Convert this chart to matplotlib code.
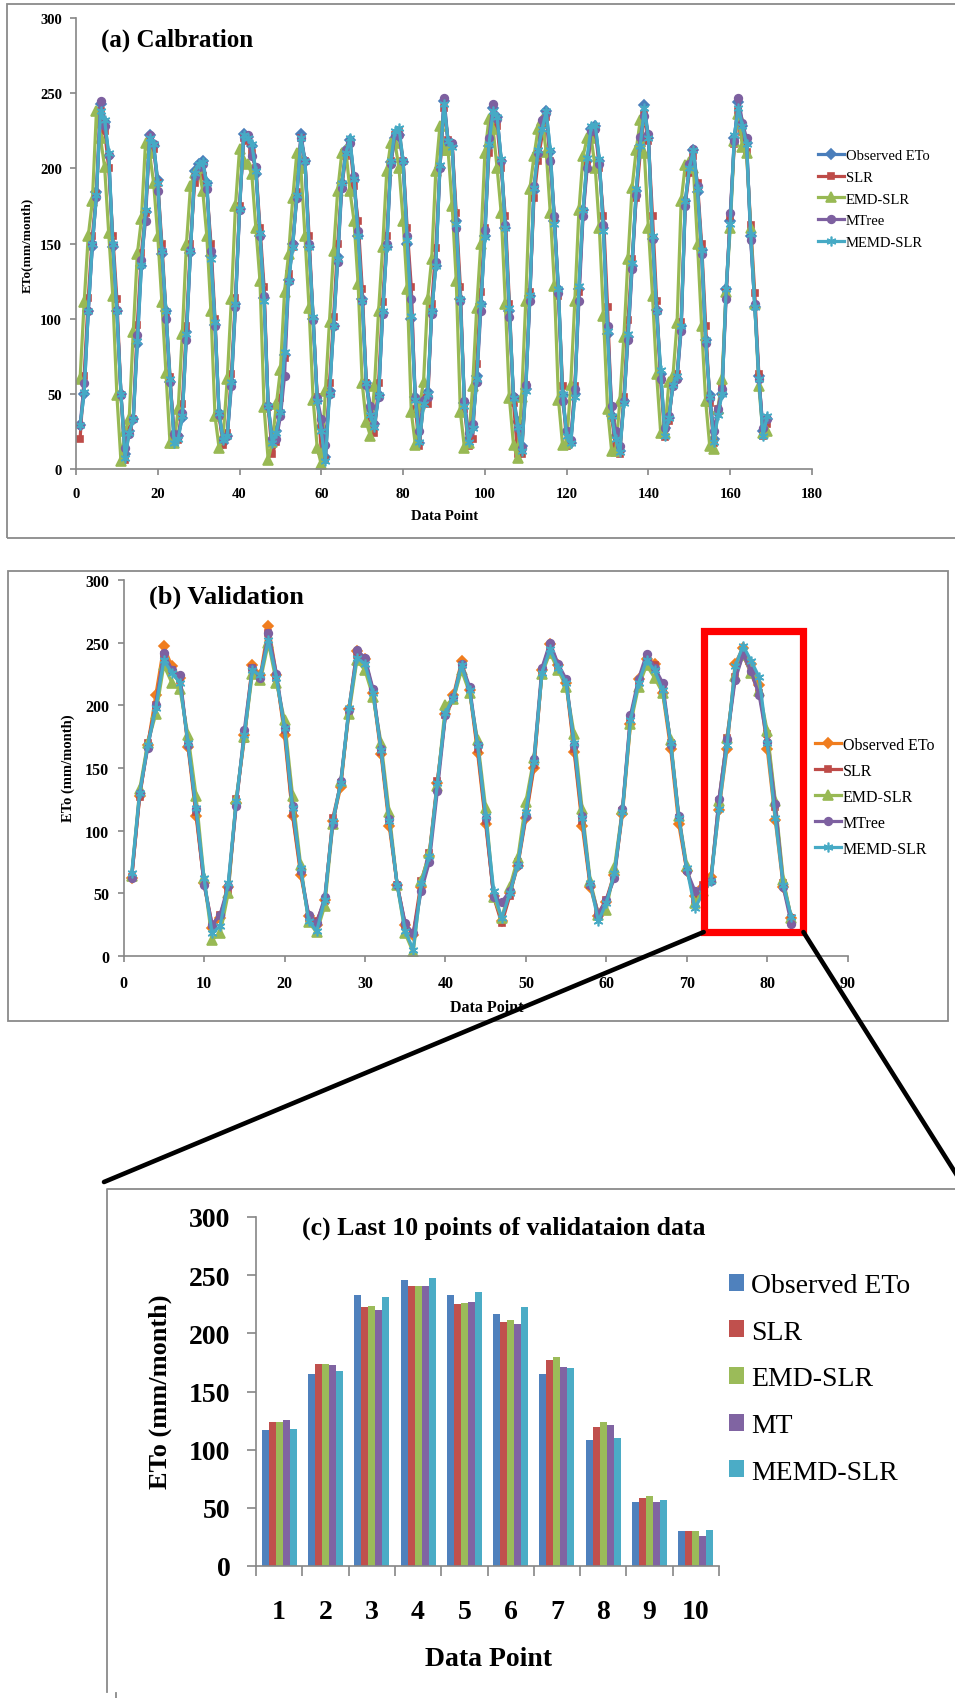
import matplotlib
matplotlib.use('Agg')
import numpy as np
import matplotlib.pyplot as plt
from matplotlib.patches import Rectangle, ConnectionPatch
from matplotlib.lines import Line2D

plt.rcParams['font.family'] = ['Liberation Serif', 'DejaVu Serif']

# ---- (a) calibration, monthly ETo (mm/month) ----
obs_a = [29, 50, 105, 148, 184, 243, 231, 208, 148, 105, 50, 10,
         25, 33, 83, 135, 171, 222, 215, 192, 143, 105, 58, 23,
         22, 34, 91, 144, 198, 203, 205, 190, 142, 96, 37, 17,
         22, 58, 110, 173, 223, 221, 215, 196, 155, 114, 42, 19,
         25, 38, 76, 126, 150, 182, 223, 205, 148, 100, 45, 28,
         8, 52, 95, 141, 190, 212, 219, 192, 155, 113, 57, 40,
         30, 49, 104, 148, 204, 220, 222, 204, 150, 100, 48, 17,
         45, 51, 105, 135, 200, 245, 216, 215, 165, 113, 44, 20,
         28, 62, 110, 155, 215, 240, 234, 205, 160, 105, 48, 31,
         15, 53, 115, 185, 210, 228, 238, 211, 165, 120, 49, 25,
         17, 50, 120, 172, 205, 226, 228, 205, 160, 90, 35, 22,
         12, 45, 88, 135, 185, 215, 242, 220, 153, 106, 63, 27,
         34, 57, 60, 95, 178, 200, 212, 184, 146, 86, 49, 20,
         37, 50, 120, 165, 220, 244, 228, 217, 155, 108, 62, 25,
         33]
slr_a = [20, 62, 114, 155, 183, 238, 225, 200, 155, 113, 49, 6,
         26, 33, 96, 144, 170, 220, 213, 190, 150, 104, 61, 19,
         19, 43, 95, 150, 190, 198, 195, 186, 150, 100, 35, 16,
         24, 63, 114, 175, 220, 218, 210, 200, 160, 121, 41, 10,
         18, 47, 74, 130, 148, 184, 220, 205, 155, 100, 48, 12,
         6, 57, 101, 150, 188, 208, 217, 188, 165, 120, 57, 34,
         24, 57, 111, 155, 205, 222, 225, 205, 160, 121, 40, 15,
         47, 43, 110, 147, 200, 240, 219, 216, 170, 121, 40, 15,
         20, 70, 118, 160, 210, 233, 228, 200, 168, 110, 44, 10,
         10, 56, 118, 180, 205, 222, 234, 205, 166, 115, 55, 15,
         18, 55, 118, 170, 203, 220, 226, 200, 168, 108, 34, 15,
         10, 48, 99, 140, 180, 210, 236, 218, 168, 112, 59, 21,
         32, 58, 63, 98, 176, 197, 208, 190, 150, 95, 44, 17,
         40, 55, 118, 168, 216, 238, 224, 211, 162, 117, 63, 22,
         30]
emd_a = [60, 111, 155, 178, 238, 220, 201, 157, 115, 49, 5, 25,
         33, 91, 143, 166, 217, 210, 190, 155, 111, 64, 17, 17,
         40, 90, 149, 188, 197, 200, 185, 155, 105, 35, 14, 22,
         60, 113, 175, 213, 205, 203, 196, 160, 125, 41, 6, 18,
         43, 66, 118, 143, 180, 210, 200, 155, 107, 46, 14, 3,
         52, 98, 145, 185, 210, 212, 185, 165, 123, 57, 31, 22,
         55, 105, 148, 198, 217, 217, 200, 165, 120, 38, 16, 42,
         58, 113, 140, 198, 228, 212, 212, 175, 125, 38, 14, 17,
         55, 107, 150, 210, 233, 226, 200, 170, 110, 47, 16, 7,
         48, 112, 186, 208, 226, 232, 211, 170, 122, 46, 16, 17,
         56, 112, 172, 208, 220, 220, 200, 160, 102, 40, 12, 12,
         45, 88, 140, 187, 212, 232, 210, 160, 115, 63, 24, 24,
         58, 62, 97, 178, 202, 204, 200, 150, 95, 45, 15, 13,
         40, 60, 118, 160, 218, 236, 214, 210, 160, 110, 55, 24,
         25]
mtree_a = [29, 57, 105, 150, 181, 245, 228, 209, 149, 106, 49, 14,
           23, 33, 89, 139, 165, 222, 216, 185, 145, 100, 58, 23,
           22, 37, 86, 146, 195, 201, 203, 186, 145, 95, 36, 20,
           22, 55, 108, 172, 221, 222, 208, 201, 155, 115, 42, 20,
           20, 35, 62, 125, 150, 180, 220, 205, 150, 99, 47, 33,
           16, 50, 95, 138, 187, 212, 217, 195, 158, 112, 56, 42,
           30, 48, 103, 150, 203, 222, 222, 205, 155, 113, 47, 25,
           46, 48, 103, 138, 200, 247, 218, 217, 160, 112, 45, 24,
           30, 58, 105, 159, 220, 243, 233, 205, 162, 101, 48, 27,
           14, 56, 112, 188, 210, 232, 237, 205, 168, 117, 45, 25,
           19, 53, 112, 168, 200, 225, 226, 203, 162, 95, 42, 25,
           15, 45, 86, 133, 182, 221, 235, 223, 153, 105, 60, 27,
           35, 55, 60, 92, 175, 203, 213, 188, 143, 84, 47, 25,
           40, 53, 113, 170, 218, 247, 230, 220, 152, 110, 60, 27,
           33]
memd_a = [29, 51, 105, 150, 182, 238, 232, 210, 150, 105, 50, 7,
          24, 33, 85, 136, 172, 220, 216, 190, 145, 105, 60, 17,
          20, 35, 90, 145, 197, 203, 204, 190, 140, 98, 37, 19,
          22, 58, 110, 173, 222, 220, 216, 198, 157, 112, 42, 17,
          24, 38, 78, 125, 148, 182, 220, 205, 148, 101, 45, 25,
          5, 50, 95, 140, 190, 210, 220, 193, 155, 112, 57, 36,
          28, 49, 105, 148, 205, 225, 227, 205, 152, 102, 46, 18,
          43, 50, 105, 135, 202, 243, 218, 214, 163, 113, 42, 18,
          27, 60, 110, 154, 216, 238, 234, 206, 160, 107, 47, 28,
          12, 52, 116, 187, 212, 226, 238, 212, 163, 120, 50, 22,
          17, 48, 122, 172, 207, 228, 229, 206, 158, 92, 35, 20,
          11, 44, 90, 137, 186, 215, 240, 220, 155, 105, 66, 22,
          34, 56, 62, 95, 178, 200, 212, 186, 146, 86, 48, 18,
          36, 50, 120, 163, 222, 240, 228, 216, 156, 108, 60, 22,
          35]

# ---- (b) validation ----
obs_b = [62, 128, 168, 208, 247, 231, 222, 167, 112, 58,
         22, 30, 55, 122, 176, 232, 224, 263, 224, 176,
         112, 65, 32, 25, 45, 108, 135, 197, 243, 237,
         210, 161, 104, 57, 25, 17, 55, 80, 138, 193,
         208, 235, 212, 162, 105, 48, 28, 50, 72, 110,
         150, 228, 249, 232, 218, 163, 104, 55, 32, 43,
         65, 113, 185, 221, 237, 233, 210, 165, 105, 68,
         48, 55, 63, 116.6, 165.3, 233, 246, 233, 216.6, 165,
         108.3, 54.7, 30]
slr_b = [63, 127, 170, 200, 240, 228, 220, 170, 115, 58,
         25, 33, 52, 125, 173, 230, 222, 258, 222, 180,
         113, 68, 30, 28, 44, 110, 138, 195, 240, 235,
         212, 163, 108, 57, 24, 18, 60, 82, 140, 192,
         205, 232, 213, 165, 108, 47, 26, 48, 75, 112,
         152, 226, 245, 230, 220, 165, 108, 57, 34, 45,
         66, 116, 190, 218, 236, 232, 213, 170, 110, 69,
         45, 57, 60, 123.5, 174, 223, 240.4, 225.2, 209.5, 177,
         119.2, 58.5, 30]
emd_b = [64, 133, 170, 193, 232, 218, 213, 176, 128, 62,
         13, 18, 50, 125, 175, 225, 220, 250, 218, 188,
         128, 73, 27, 19, 40, 105, 140, 193, 236, 228,
         207, 170, 115, 57, 18, 3, 60, 82, 136, 200,
         205, 228, 210, 172, 118, 47, 30, 55, 78, 123,
         158, 225, 242, 228, 215, 177, 117, 60, 33, 37,
         70, 117, 185, 215, 232, 222, 210, 172, 112, 72,
         42, 52, 62, 124, 174, 223.8, 240.4, 226, 211.7, 179.4,
         123.8, 60.5, 30]
mtree_b = [62, 130, 166, 200, 242, 228, 224, 168, 117, 57,
           25, 33, 56, 120, 180, 230, 222, 258, 225, 182,
           120, 68, 33, 26, 47, 105, 140, 196, 244, 238,
           213, 165, 109, 57, 26, 18, 52, 75, 132, 192,
           207, 233, 215, 168, 110, 47, 43, 52, 73, 112,
           157, 230, 250, 233, 221, 168, 112, 57, 33, 45,
           62, 117, 192, 221, 241, 230, 218, 168, 112, 68,
           52, 55, 60, 125.5, 172.8, 220, 240.7, 227, 208, 171,
           121.2, 54.7, 25.5]
memd_b = [66, 130, 168, 198, 236, 226, 218, 170, 118, 62,
          18, 24, 58, 124, 176, 228, 224, 252, 222, 182,
          118, 70, 28, 20, 45, 108, 138, 198, 238, 233,
          210, 164, 108, 57, 20, 5, 58, 80, 138, 194,
          206, 232, 212, 168, 112, 52, 30, 50, 73, 115,
          155, 226, 245, 230, 218, 170, 110, 58, 28, 42,
          66, 115, 188, 218, 236, 228, 212, 170, 110, 70,
          38, 50, 60, 117.5, 168, 231, 247.6, 235.5, 222.4, 170,
          109.8, 56.5, 31]

names_ab = ['Observed ETo', 'SLR', 'EMD-SLR', 'MTree', 'MEMD-SLR']
names_c = ['Observed ETo', 'SLR', 'EMD-SLR', 'MT', 'MEMD-SLR']
n_last = 10

blue, red, green, purple, cyan = '#4A7EBB', '#BE4B48', '#98B954', '#7D60A0', '#46AAC5'
orange = '#F07D1E'
colors_a = [blue, red, green, purple, cyan]
colors_b = [orange, red, green, purple, cyan]
bar_colors = ['#4F81BD', '#C0504D', '#9BBB59', '#8064A2', '#4BACC6']
markers = ['D', 's', '^', 'o', (6, 2, 0)]
msizes = [5, 4, 6.5, 5.5, 7]

W, H = 955, 1699
fig = plt.figure(figsize=(W / 100, H / 100), dpi=100)


def fx(x):
    return x / W


def fy(y):
    return 1 - y / H


def box(l, t, r, b):
    return [fx(l), fy(b), (r - l) / W, (b - t) / H]


def style(ax, fs, xpad, ypad, tl=4):
    for s in ['top', 'right']:
        ax.spines[s].set_visible(False)
    for s in ['left', 'bottom']:
        ax.spines[s].set_color('#868686')
        ax.spines[s].set_linewidth(1.2)
    ax.tick_params(direction='out', color='#868686', length=tl, width=1.2,
                   labelsize=fs)
    ax.tick_params(axis='x', pad=xpad)
    ax.tick_params(axis='y', pad=ypad)
    plt.setp(ax.get_xticklabels() + ax.get_yticklabels(), fontweight='bold')


gray = '#8a8a8a'
# panel frames
fig.add_artist(Rectangle((fx(7), fy(539)), (962 - 7) / W, (539 - 5) / H,
                         transform=fig.transFigure, fill=False, ec=gray, lw=1.3))
fig.add_artist(Rectangle((fx(8), fy(1022)), (948 - 8) / W, (1022 - 572) / H,
                         transform=fig.transFigure, fill=False, ec=gray, lw=1.3))
fig.add_artist(Line2D([fx(107), fx(107), fx(962)], [fy(1693), fy(1190), fy(1190)],
                      transform=fig.transFigure, color=gray, lw=1.3))
fig.add_artist(Line2D([fx(116), fx(116)], [fy(1694), fy(1701)],
                      transform=fig.transFigure, color=gray, lw=1.3))

# ---- (a) ----
ax_a = fig.add_axes(box(76, 19, 812, 470))
xa = np.arange(1, len(obs_a) + 1)
for vals, name, c, m, ms in zip([obs_a, slr_a, emd_a, mtree_a, memd_a],
                                names_ab, colors_a, markers, msizes):
    ax_a.plot(xa, vals, color=c, lw=2.3, marker=m, ms=ms, mec=c, mfc=c,
              mew=1.2, label=name)
ax_a.set_xlim(0, 180)
ax_a.set_ylim(0, 300)
ax_a.set_xticks(range(0, 181, 20))
ax_a.set_yticks(range(0, 301, 50))
style(ax_a, 10.5, 9, 6)
ax_a.legend(loc='upper left', bbox_to_anchor=(fx(818), fy(150)),
            bbox_transform=fig.transFigure, frameon=False, fontsize=10.5,
            handlelength=1.8, handletextpad=0.1, labelspacing=0.58,
            borderpad=0, borderaxespad=0, numpoints=1)
fig.text(fx(101), fy(40), '(a) Calbration', fontsize=18, fontweight='bold',
         ha='left', va='center')
fig.text(fx(27), fy(245), 'ETo(mm/month)', fontsize=9.5, fontweight='bold',
         rotation=90, ha='center', va='center')
fig.text(fx(445), fy(517), 'Data Point', fontsize=10.5, fontweight='bold',
         ha='center', va='center')

# ---- (b) ----
ax_b = fig.add_axes(box(123.6, 581, 847.7, 957))
xb = np.arange(1, len(obs_b) + 1)
for vals, name, c, m, ms in zip([obs_b, slr_b, emd_b, mtree_b, memd_b],
                                names_ab, colors_b, markers, msizes):
    ax_b.plot(xb, vals, color=c, lw=2.3, marker=m, ms=ms, mec=c, mfc=c,
              mew=1.2, label=name)
ax_b.set_xlim(0, 90)
ax_b.set_ylim(0, 300)
ax_b.set_xticks(range(0, 91, 10))
ax_b.set_yticks(range(0, 301, 50))
style(ax_b, 11.5, 10, 6.5)
ax_b.legend(loc='upper left', bbox_to_anchor=(fx(815), fy(738)),
            bbox_transform=fig.transFigure, frameon=False, fontsize=11.5,
            handlelength=1.65, handletextpad=0.1, labelspacing=0.62,
            borderpad=0, borderaxespad=0, numpoints=1)
fig.text(fx(149), fy(597), '(b) Validation', fontsize=19, fontweight='bold',
         ha='left', va='center')
fig.text(fx(68), fy(768), 'ETo (mm/month)', fontsize=10.5, fontweight='bold',
         rotation=90, ha='center', va='center')
fig.text(fx(487), fy(1008), 'Data Point', fontsize=11.5, fontweight='bold',
         ha='center', va='center')

# zoom box and connector lines
x0, x1 = len(obs_b) - n_last - 0.9, len(obs_b) + 1.5
y0, y1 = 19.1, 259.7
ax_b.add_patch(Rectangle((x0, y0), x1 - x0, y1 - y0, fill=False, ec='#FF0000',
                         lw=5.2, clip_on=False, zorder=6, joinstyle='miter'))
for xa_, xyB in [(x0, (fx(104), fy(1183))), (x1, (fx(958), fy(1178)))]:
    fig.add_artist(ConnectionPatch(xyA=(xa_, y0), coordsA=ax_b.transData,
                                   xyB=xyB, coordsB=fig.transFigure,
                                   color='black', lw=3.3, zorder=7))

# ---- (c) ----
ax_c = fig.add_axes(box(256, 1218, 719, 1567))
xc = np.arange(1, n_last + 1)
bw = 0.151
for i, (vals, name, c) in enumerate(zip([obs_b, slr_b, emd_b, mtree_b, memd_b],
                                        names_c, bar_colors)):
    ax_c.bar(xc + (i - 2) * bw, vals[-n_last:], width=bw, color=c, label=name)
ax_c.set_xlim(0.5, n_last + 0.5)
ax_c.set_ylim(0, 300)
ax_c.set_xticks(xc)
ax_c.set_xticks(np.arange(0.5, n_last + 1), minor=True)
ax_c.set_yticks(range(0, 301, 50))
style(ax_c, 20, 24, 12, tl=6.5)
ax_c.tick_params(axis='x', which='major', length=0)
ax_c.tick_params(axis='x', which='minor', direction='out', length=7.5,
                 width=1.2, color='#868686')
ax_c.legend(loc='upper left', bbox_to_anchor=(fx(729), fy(1274)),
            bbox_transform=fig.transFigure, frameon=False, fontsize=20,
            handlelength=0.55, handleheight=0.55, handletextpad=0.25,
            labelspacing=0.78, borderpad=0, borderaxespad=0)
fig.text(fx(302), fy(1228), '(c) Last 10 points of validataion data',
         fontsize=18.5, fontweight='bold', ha='left', va='center')
fig.text(fx(160), fy(1392), 'ETo (mm/month)', fontsize=19, fontweight='bold',
         rotation=90, ha='center', va='center')
fig.text(fx(488), fy(1660), 'Data Point', fontsize=20, fontweight='bold',
         ha='center', va='center')

fig.savefig('out.png', dpi=100)
